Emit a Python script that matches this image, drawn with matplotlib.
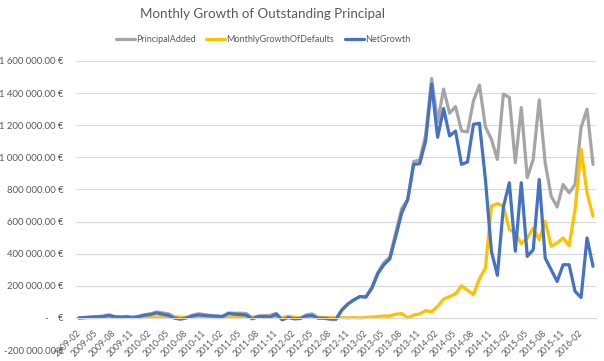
import numpy as np
import pandas as pd
import matplotlib
matplotlib.use("Agg")
import matplotlib.pyplot as plt
from matplotlib.ticker import FuncFormatter

plt.rcParams['font.family'] = ['Lato', 'DejaVu Sans']

months = pd.period_range('2009-02', periods=87, freq='M').strftime('%Y-%m').tolist()

# values in thousand EUR
principal_added = [0, 3, 6, 8, 11, 19, 9, 6, 9, 4, 10, 20, 26, 37, 31, 25, 6, -4, 3, 17,
                   26, 20, 15, 12, 10, 31, 29, 29, 27, -1, 12, 14, 16, 28, -10, 10, -2, -2, 18, 25,
                   2, 0, -5, -8, 52, 87, 114, 133, 132, 190, 283, 343, 379, 531, 681, 737, 974, 983, 1140, 1491,
                   1220, 1425, 1275, 1316, 1164, 1158, 1352, 1450, 1190, 1112, 987, 1394, 1373, 966, 1310, 873, 987, 1358, 966, 758,
                   691, 831, 779, 831, 1185, 1300, 956]
defaults_growth = [0, 1, 2, 2, 3, 4, 3, 2, 3, 2, 2, 3, 5, 6, 8, 10, 8, 4, 3, 5,
                   7, 5, 3, 2, 2, 4, 6, 8, 10, 5, 4, 6, 10, 5, 2, 8, 4, 2, 6, 10,
                   4, 2, 3, 0, 2, 0, 2, 0, 3, 5, 8, 12, 12, 23, 27, 0, 18, 25, 45, 38,
                   72, 117, 133, 150, 200, 172, 145, 245, 310, 696, 712, 696, 550, 529, 462, 498, 560, 487, 602, 446,
                   467, 498, 450, 675, 1050, 779, 633]
net_growth = [0, 2, 4, 6, 8, 15, 6, 4, 6, 2, 8, 17, 21, 31, 23, 15, -2, -8, 0, 12,
              19, 15, 12, 10, 8, 27, 23, 21, 17, -6, 8, 8, 6, 23, -12, 2, -6, -4, 12, 15,
              -2, -2, -8, -8, 50, 87, 112, 133, 129, 185, 275, 331, 367, 508, 654, 737, 956, 960, 1102, 1456,
              1125, 1304, 1133, 1164, 956, 971, 1206, 1212, 862, 415, 265, 690, 842, 415, 842, 383, 425, 862, 373, 300,
              227, 331, 331, 165, 127, 498, 321]

series_names = ['PrincipalAdded', 'MonthlyGrowthOfDefaults', 'NetGrowth']
colors = ['#A5A5A5', '#FFC000', '#4472C4']

fig = plt.figure(figsize=(6.04, 3.61), dpi=100)
ax = fig.add_axes([76/604, 1 - 350/361, 520/604, 289/361])

x = np.arange(len(months))
for vals, name, c in zip([principal_added, defaults_growth, net_growth], series_names, colors):
    ax.plot(x, np.array(vals) * 1000, color=c, lw=2.3, label=name,
            solid_joinstyle='round', solid_capstyle='round')

ax.set_xlim(-0.5, len(months) - 0.5)
ax.set_ylim(-200000, 1600000)
ax.set_yticks(np.arange(-200000, 1600001, 200000))


def eur(v, pos):
    if v == 0:
        return '-    €'
    return f'{v:,.2f} €'.replace(',', ' ')


ax.yaxis.set_major_formatter(FuncFormatter(eur))
ax.grid(axis='y', color='#d9d9d9', lw=0.8)
ax.set_axisbelow(True)
for s in ['top', 'right', 'left']:
    ax.spines[s].set_visible(False)
ax.spines['bottom'].set_position(('data', 0))
ax.spines['bottom'].set_color('#d9d9d9')
ax.spines['bottom'].set_linewidth(0.8)

ax.set_xticks(x[::3])
ax.set_xticklabels(months[::3], rotation=45, ha='right', va='center',
                   rotation_mode='anchor', fontsize=6.2, color='#595959')
ax.tick_params(axis='x', length=0, pad=10)
ax.tick_params(axis='y', length=0, pad=9, labelsize=6.8, labelcolor='#595959')

fig.text(263/604, 1 - 14/361, 'Monthly Growth of Outstanding Principal',
         ha='center', va='center', fontsize=9.6, color='#595959')
fig.legend(loc='center', bbox_to_anchor=(263/604, 1 - 40/361), ncol=3, frameon=False,
           fontsize=6.5, handlelength=2.1, handletextpad=0.1, columnspacing=1.2,
           labelcolor='#595959')

fig.savefig('out.png', dpi=100)
